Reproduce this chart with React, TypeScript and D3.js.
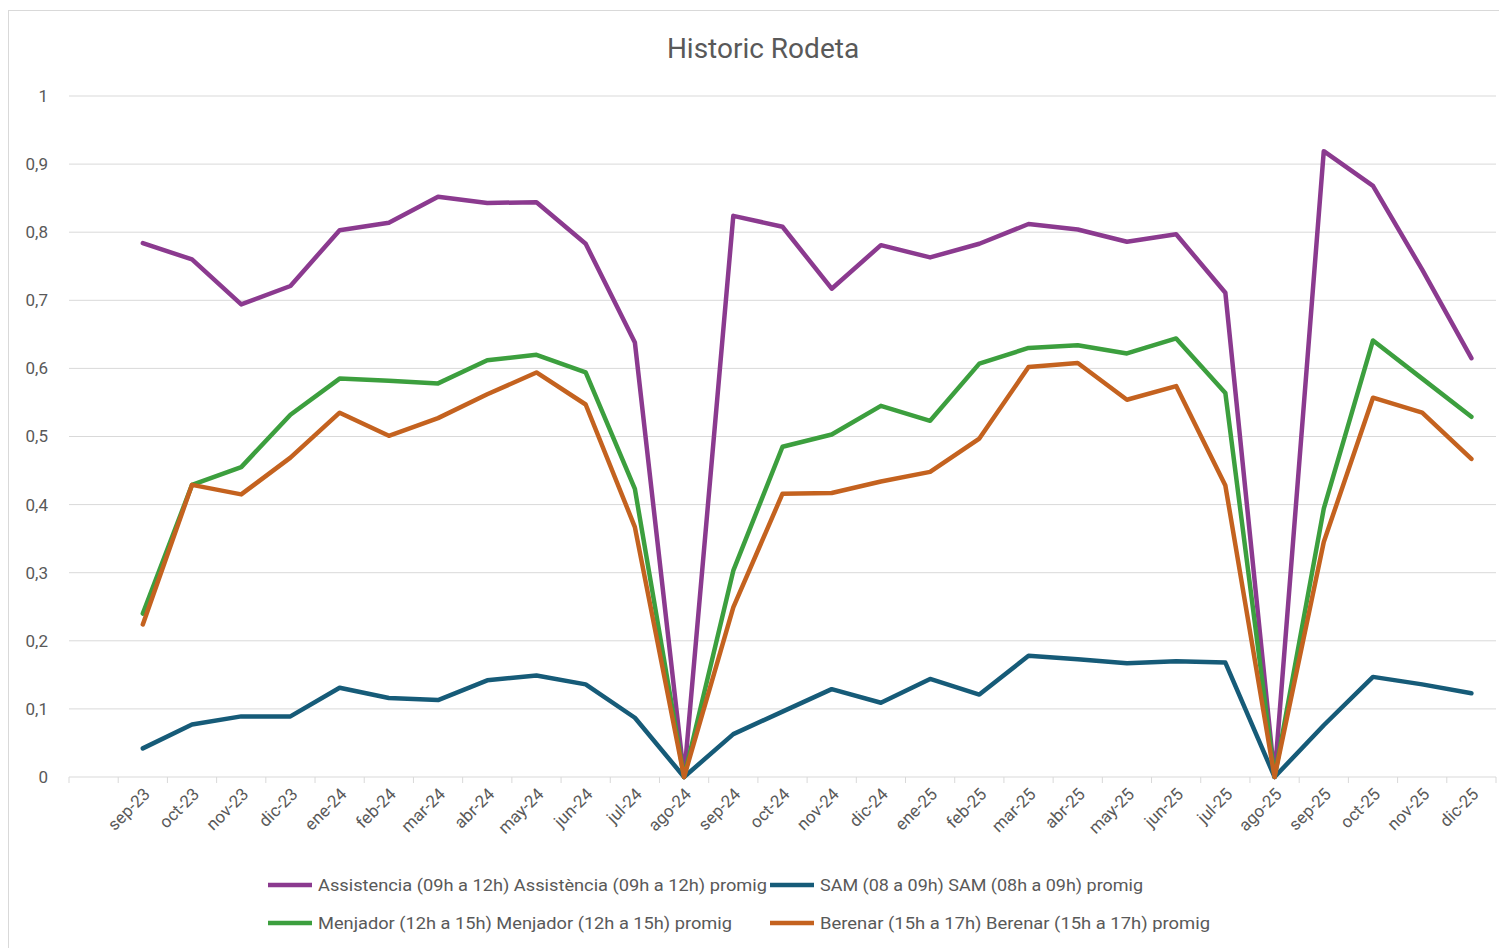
import { useEffect } from 'react'
import * as d3 from 'd3'

// first category is empty in the source sheet
const categories = [
  '', 'sep-23', 'oct-23', 'nov-23', 'dic-23', 'ene-24', 'feb-24', 'mar-24', 'abr-24', 'may-24', 'jun-24',
  'jul-24', 'ago-24', 'sep-24', 'oct-24', 'nov-24', 'dic-24', 'ene-25', 'feb-25', 'mar-25', 'abr-25',
  'may-25', 'jun-25', 'jul-25', 'ago-25', 'sep-25', 'oct-25', 'nov-25', 'dic-25',
]

const assistencia = [
  null, 0.784, 0.76, 0.694, 0.721, 0.803, 0.814, 0.852, 0.843, 0.844, 0.783, 0.638, 0,
  0.824, 0.808, 0.717, 0.781, 0.763, 0.783, 0.812, 0.804, 0.786, 0.797, 0.711, 0,
  0.919, 0.868, 0.745, 0.615,
]
const sam = [
  null, 0.042, 0.077, 0.089, 0.089, 0.131, 0.116, 0.113, 0.142, 0.149, 0.136, 0.087, 0,
  0.063, 0.096, 0.129, 0.109, 0.144, 0.121, 0.178, 0.173, 0.167, 0.17, 0.168, 0,
  0.076, 0.147, 0.136, 0.123,
]
const menjador = [
  null, 0.24, 0.429, 0.455, 0.532, 0.585, 0.582, 0.578, 0.612, 0.62, 0.594, 0.423, 0,
  0.303, 0.485, 0.503, 0.545, 0.523, 0.607, 0.63, 0.634, 0.622, 0.644, 0.564, 0,
  0.394, 0.641, 0.585, 0.529,
]
const berenar = [
  null, 0.224, 0.429, 0.415, 0.469, 0.535, 0.501, 0.527, 0.562, 0.594, 0.547, 0.367, 0,
  0.249, 0.416, 0.417, 0.434, 0.448, 0.497, 0.602, 0.608, 0.554, 0.574, 0.428, 0,
  0.345, 0.557, 0.535, 0.467,
]

const yTicks = [0, 0.1, 0.2, 0.3, 0.4, 0.5, 0.6, 0.7, 0.8, 0.9, 1]

const series = [
  { name: 'Assistencia (09h a 12h) Assistència (09h a 12h) promig', values: assistencia, color: '#8b3a8f' },
  { name: 'SAM (08 a 09h) SAM (08h a 09h) promig', values: sam, color: '#165b78' },
  { name: 'Menjador (12h a 15h) Menjador (12h a 15h) promig', values: menjador, color: '#3c9f3e' },
  { name: 'Berenar (15h a 17h) Berenar (15h a 17h) promig', values: berenar, color: '#c4621f' },
]

// legend placement (two rows, two columns)
const legendPos = [
  { x: 268, y: 885, w: 449 },
  { x: 770, y: 885, w: 323 },
  { x: 268, y: 923, w: 414 },
  { x: 770, y: 923, w: 390 },
]

const W = 1499
const H = 948
const left = 69
const right = 1496
const top = 96
const bottom = 777

const font = 'Roboto, Liberation Sans, sans-serif'
const textColor = '#595959'

export default function App() {
  useEffect(() => {
    document.body.style.margin = '0'
    document.body.style.overflow = 'hidden'
  }, [])

  const x = d3.scaleBand<string>().domain(categories.map((c, i) => `${i}`)).range([left, right]).padding(0)
  const y = d3.scaleLinear().domain([0, 1]).range([bottom, top])
  const cx = (i: number) => (x(`${i}`) ?? 0) + x.bandwidth() / 2

  const line = d3.line<number | null>()
    .defined(d => d !== null)
    .x((_, i) => cx(i))
    .y(d => y(d as number))

  const fmt = (v: number) => d3.format('.1~f')(v).replace('.', ',')

  return (
    <svg width={W} height={H} style={{ display: 'block', background: '#fff' }}>
      {/* chart area border */}
      <rect x={8.5} y={10.5} width={W + 10} height={H + 10} fill="none" stroke="#d9d9d9" />

      <text x={763} y={58} textAnchor="middle" fontSize={28} fill={textColor} fontFamily={font}>
        Historic Rodeta
      </text>

      {/* gridlines */}
      {yTicks.map(t => (
        <g key={t}>
          <line x1={left} x2={right} y1={y(t)} y2={y(t)} stroke="#d9d9d9" strokeWidth={1} />
          <text x={48} y={y(t)} dy="0.35em" textAnchor="end" fontSize={17} fill={textColor} fontFamily={font}>
            {fmt(t)}
          </text>
        </g>
      ))}

      {/* tick marks between categories */}
      {d3.range(categories.length + 1).map(i => {
        const tx = left + i * x.bandwidth()
        return <line key={i} x1={tx} x2={tx} y1={bottom} y2={bottom + 6} stroke="#d9d9d9" />
      })}

      {categories.map((c, i) => (
        <text
          key={i}
          transform={`translate(${cx(i) + 4},${bottom + 14}) rotate(-45)`}
          textAnchor="end"
          dy="0.35em"
          fontSize={17}
          fill={textColor}
          fontFamily={font}
        >
          {c}
        </text>
      ))}

      {series.map(s => (
        <path
          key={s.name}
          d={line(s.values) ?? ''}
          fill="none"
          stroke={s.color}
          strokeWidth={4.5}
          strokeLinejoin="round"
          strokeLinecap="round"
        />
      ))}

      {series.map((s, i) => {
        const p = legendPos[i]
        return (
          <g key={s.name}>
            <line x1={p.x} x2={p.x + 44} y1={p.y} y2={p.y} stroke={s.color} strokeWidth={4.5} />
            <text
              x={p.x + 50}
              y={p.y}
              dy="0.35em"
              fontSize={17}
              fill={textColor}
              fontFamily={font}
              textLength={p.w}
              lengthAdjust="spacingAndGlyphs"
            >
              {s.name}
            </text>
          </g>
        )
      })}
    </svg>
  )
}
